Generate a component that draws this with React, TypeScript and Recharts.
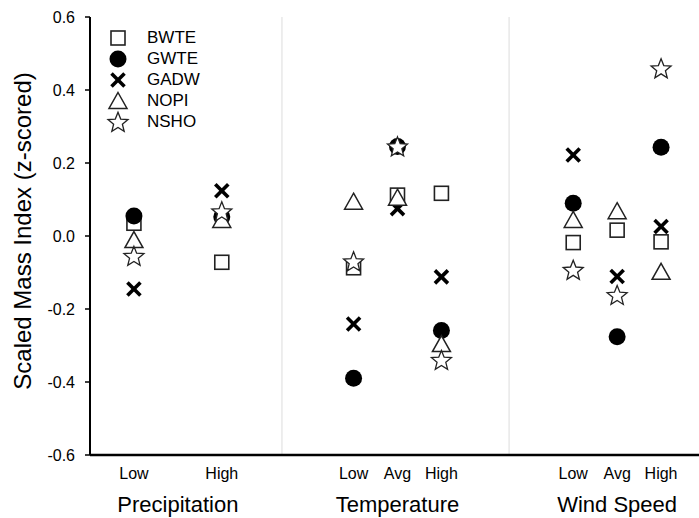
import React from "react";
import {
  ScatterChart,
  Scatter,
  XAxis,
  YAxis,
  ReferenceLine,
  Label,
} from "recharts";

// x positions of each level on the shared numeric axis
const xPos = [1, 3, 6, 7, 8, 11, 12, 13];
const levelLabels = ["Low", "High", "Low", "Avg", "High", "Low", "Avg", "High"];
const groupPos = [2, 7, 12];
const groupNames = ["Precipitation", "Temperature", "Wind Speed"];
const dividers = [4.37, 9.54];
const yTicks = [-0.6, -0.4, -0.2, 0.0, 0.2, 0.4, 0.6];

const bwte = [0.035, -0.072, -0.087, 0.112, 0.117, -0.018, 0.016, -0.016];
const gwte = [0.055, 0.053, -0.39, 0.245, -0.259, 0.09, -0.276, 0.243];
const gadw = [-0.145, 0.124, -0.241, 0.075, -0.112, 0.222, -0.111, 0.026];
const nopi = [-0.011, 0.044, 0.094, 0.105, -0.296, 0.044, 0.068, -0.098];
const nsho = [-0.055, 0.067, -0.07, 0.245, -0.34, -0.093, -0.162, 0.459];

type Kind = "square" | "circle" | "cross" | "triangle" | "star";

const series: { name: string; kind: Kind; values: number[] }[] = [
  { name: "BWTE", kind: "square", values: bwte },
  { name: "GWTE", kind: "circle", values: gwte },
  { name: "GADW", kind: "cross", values: gadw },
  { name: "NOPI", kind: "triangle", values: nopi },
  { name: "NSHO", kind: "star", values: nsho },
];

// every x tick: level positions plus group centres
const allTicks = Array.from(new Set([...xPos, ...groupPos])).sort((a, b) => a - b);

const FONT = '"Liberation Sans", Arial, sans-serif';

function starPoints(cx: number, cy: number, R: number, r: number) {
  const pts: string[] = [];
  for (let i = 0; i < 10; i++) {
    const rad = i % 2 === 0 ? R : r;
    const a = -Math.PI / 2 + (i * Math.PI) / 5;
    pts.push(`${cx + rad * Math.cos(a)},${cy + rad * Math.sin(a)}`);
  }
  return pts.join(" ");
}

function Marker({ kind, cx, cy }: { kind: Kind; cx: number; cy: number }) {
  if (cx == null || cy == null) return null;
  switch (kind) {
    case "square":
      return (
        <rect x={cx - 7} y={cy - 7} width={14} height={14} fill="#fff" stroke="#222" strokeWidth={1.6} />
      );
    case "circle":
      return <circle cx={cx} cy={cy} r={8.5} fill="#000" />;
    case "cross":
      return (
        <g stroke="#000" strokeWidth={3.6}>
          <line x1={cx - 6.5} y1={cy - 6.5} x2={cx + 6.5} y2={cy + 6.5} />
          <line x1={cx - 6.5} y1={cy + 6.5} x2={cx + 6.5} y2={cy - 6.5} />
        </g>
      );
    case "triangle":
      return (
        <polygon
          points={`${cx},${cy - 8.5} ${cx + 9},${cy + 7.5} ${cx - 9},${cy + 7.5}`}
          fill="#fff"
          stroke="#222"
          strokeWidth={1.5}
        />
      );
    case "star":
      return (
        <polygon points={starPoints(cx, cy + 0.8, 10.5, 4.6)} fill="#fff" stroke="#222" strokeWidth={1.3} />
      );
  }
}

function XTick({ x, y, payload }: any) {
  const v = payload.value;
  const li = xPos.indexOf(v);
  const gi = groupPos.indexOf(v);
  return (
    <g>
      {li >= 0 && (
        <text x={x} y={y + 13} dy="0.71em" textAnchor="middle" fontSize={16} fill="#000">
          {levelLabels[li]}
        </text>
      )}
      {gi >= 0 && (
        <text x={x} y={y + 41} dy="0.71em" textAnchor="middle" fontSize={22} fill="#000">
          {groupNames[gi]}
        </text>
      )}
    </g>
  );
}

function LegendBox() {
  return (
    <div style={{ position: "absolute", left: 108, top: 27 }}>
      {series.map((s) => (
        <div key={s.name} style={{ display: "flex", alignItems: "center", height: 21.2 }}>
          <svg width={22} height={22} style={{ overflow: "visible" }}>
            <Marker kind={s.kind} cx={10} cy={11} />
          </svg>
          <span style={{ marginLeft: 17, fontSize: 17, fontFamily: FONT, color: "#000" }}>{s.name}</span>
        </div>
      ))}
    </div>
  );
}

export default function App() {
  return (
    <div
      style={{
        position: "absolute",
        left: 0,
        top: 0,
        width: 699,
        height: 518,
        overflow: "hidden",
        background: "#fff",
        fontFamily: FONT,
      }}
    >
      <ScatterChart width={705} height={518} margin={{ top: 17, right: 0, bottom: 0, left: 0 }}>
        <XAxis
          xAxisId="lvl"
          type="number"
          dataKey="x"
          domain={[0, 14]}
          ticks={allTicks}
          interval={0}
          tickLine={false}
          tickSize={0}
          tickMargin={0}
          axisLine={{ stroke: "#000", strokeWidth: 2.5 }}
          tick={<XTick />}
          height={63}
        />
        <YAxis
          type="number"
          dataKey="y"
          domain={[-0.6, 0.6]}
          ticks={yTicks}
          interval={0}
          tickFormatter={(v) => v.toFixed(1)}
          tickSize={5}
          tickMargin={10}
          tickLine={{ stroke: "#000", strokeWidth: 1.5 }}
          axisLine={{ stroke: "#000", strokeWidth: 2 }}
          tick={{ fill: "#000", fontSize: 16 }}
          width={90}
        >
          <Label
            content={() => (
              <text
                x={22}
                y={231}
                transform="rotate(-90 22 231)"
                textAnchor="middle"
                dominantBaseline="central"
                fontSize={24}
                fill="#000"
              >
                Scaled Mass Index (z-scored)
              </text>
            )}
          />
        </YAxis>
        {dividers.map((d) => (
          <ReferenceLine key={d} xAxisId="lvl" x={d} stroke="#dcdcdc" strokeWidth={1} />
        ))}
        {series.map((s) => (
          <Scatter
            key={s.name}
            name={s.name}
            xAxisId="lvl"
            data={s.values.map((v, i) => ({ x: xPos[i], y: v }))}
            isAnimationActive={false}
            shape={(p: any) => <Marker kind={s.kind} cx={p.cx} cy={p.cy} />}
          />
        ))}
      </ScatterChart>
      <LegendBox />
    </div>
  );
}
